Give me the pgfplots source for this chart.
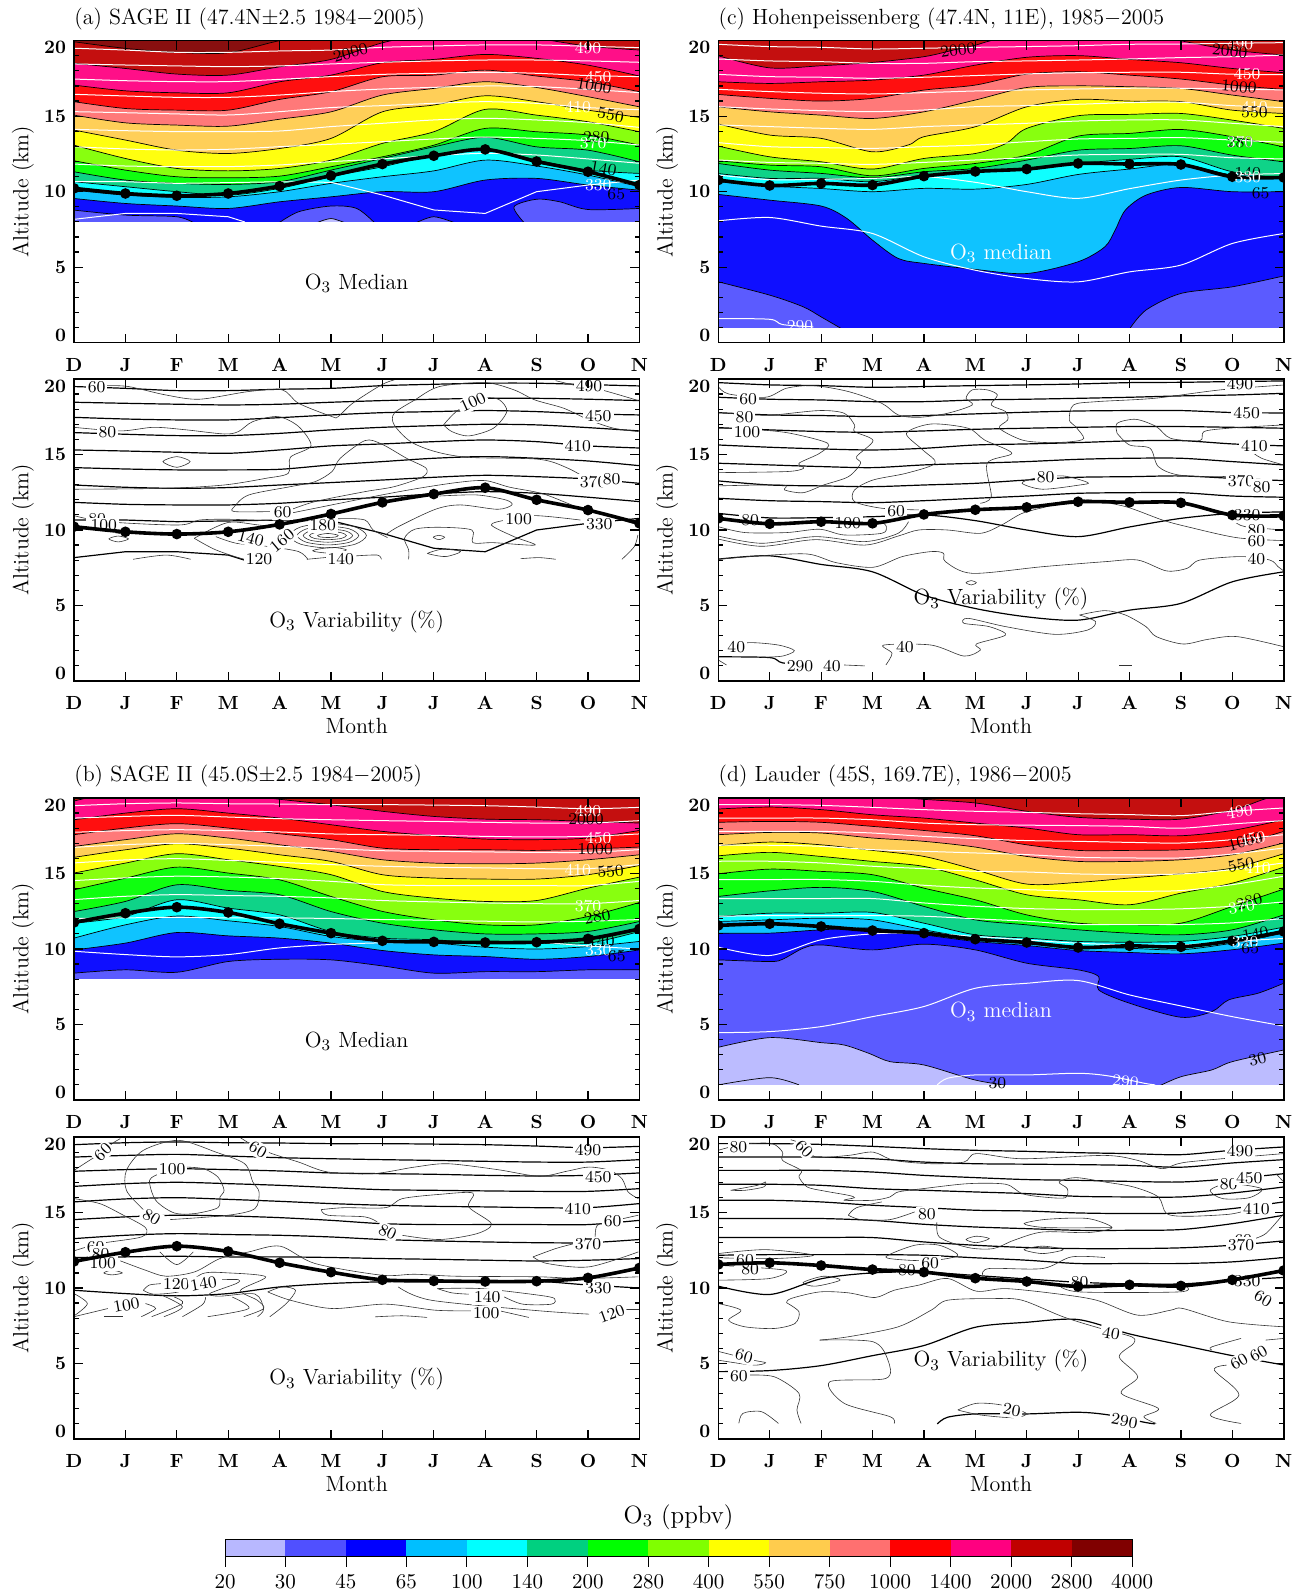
\documentclass[border=0pt]{standalone}
\usepackage{fontspec}
\usepackage{pgfplots}
\pgfplotsset{compat=1.18}
\definecolor{c20}{HTML}{B8B8FF}\definecolor{c30}{HTML}{5050FF}\definecolor{c45}{HTML}{0000FF}
\definecolor{c65}{HTML}{00BFFF}\definecolor{c100}{HTML}{00FFFF}\definecolor{c140}{HTML}{00D080}
\definecolor{c200}{HTML}{00FF00}\definecolor{c280}{HTML}{80FF00}\definecolor{c400}{HTML}{FFFF00}
\definecolor{c550}{HTML}{FFCC4D}\definecolor{c750}{HTML}{FF7070}\definecolor{c1000}{HTML}{FF0000}
\definecolor{c1400}{HTML}{FF0080}\definecolor{c2000}{HTML}{C00000}\definecolor{c2800}{HTML}{800000}
\newcommand\spc{\addfontfeature{LetterSpace=8}}
\newcommand\txt{\fontsize{11}{12}\selectfont\addfontfeature{LetterSpace=11}}
\newcommand\txtY{\fontsize{11}{12}\selectfont\addfontfeature{LetterSpace=14}}
\newcommand\lab{\fontsize{8.3}{9}\selectfont}
\newcommand\bnd[2]{\addplot[fill=#1!94!white,draw=black,line width=.35pt,smooth] coordinates {#2} \closedcycle;}
\newcommand\bg[1]{\addplot[fill=#1!94!white,draw=none] coordinates {(0,20)(11,20)} \closedcycle;}
\newcommand\cover[1]{\addplot[fill=white,draw=none] coordinates {(0,#1)(11,#1)} \closedcycle;}
\newcommand\iso[1]{\addplot[color=\isocol,line width=\isow,smooth] coordinates {#1};}
\newcommand\cl[1]{\addplot[black!80,line width=.3pt,smooth] coordinates {#1};}
\newcommand\tl[1]{\addplot[black,line width=.35pt,smooth] coordinates {#1};}
\newcommand\tp[1]{\addplot[black,line width=1.8pt,smooth,mark=*,mark size=1.7pt,mark options={solid}] coordinates {#1};}
\newcommand\Lb[4][]{\node[font=\lab,inner sep=0pt,black,#1] at (axis cs:#2,#3) {#4};}
\newcommand\Lw[4][]{\node[font=\lab,inner sep=0pt,white,#1] at (axis cs:#2,#3) {#4};}
\newcommand\Lf[4][]{\node[font=\lab,inner sep=1pt,black,fill=white,#1] at (axis cs:#2,#3) {#4};}
\newcommand\Tx[4][black]{\node[font=\txt,#1,inner sep=0pt] at (axis cs:#2,#3) {#4};}
\pgfplotsset{pan/.style={
  scale only axis,width=282.7pt,height=151pt,anchor=south west,
  xmin=0,xmax=11,ymin=0,ymax=20,axis on top,clip marker paths=true,
  xtick={0,...,11},xticklabels={D,J,F,M,A,M,J,J,A,S,O,N},
  ytick={0,5,10,15,20},
  yticklabels={\raisebox{3.8pt}[6pt][0pt]{0},5,10,15,\raisebox{-3.6pt}[6pt][0pt]{20}},
  minor y tick num=4,
  tick align=inside,xtick pos=both,ytick pos=both,
  xticklabel pos=bottom,yticklabel pos=left,
  major tick length=4.5pt,minor tick length=2.4pt,
  every tick/.style={black,line width=.6pt},
  axis line style={line width=.8pt},
  tick label style={font=\fontsize{9.5}{10}\selectfont\bfseries},
  xticklabel style={yshift=-4.3pt},
  yticklabel style={xshift=-.5pt},
  ylabel={Altitude (km)},
  every axis y label/.style={at={(axis description cs:-0.0905,0.5)},rotate=90,anchor=center,font=\txtY},
}}
\pgfplotsset{xl/.style={xlabel={Month},every axis x label/.style={at={(rel axis cs:0.5,0)},anchor=center,yshift=-22.5pt,font=\txt}},
 ttl/.style={title={#1},every axis title/.style={at={(rel axis cs:0,1)},anchor=base west,yshift=8pt,inner xsep=0pt,font=\txt}}}
% ---------- isentropes ----------
\newcommand\isoA{%
\iso{(0,19.5)(1,19.38)(2,19.23)(3,19.23)(4,19.32)(5,19.38)(6,19.56)(7,19.65)(8,19.72)(9,19.72)(10,19.63)(11,19.54)}
\iso{(0,18.46)(1,18.39)(2,18.33)(3,18.28)(4,18.33)(5,18.46)(6,18.57)(7,18.66)(8,18.72)(9,18.72)(10,18.66)(11,18.57)}
\iso{(0,17.46)(1,17.35)(2,17.29)(3,17.29)(4,17.44)(5,17.62)(6,17.77)(7,17.84)(8,17.91)(9,17.84)(10,17.69)(11,17.62)}
\iso{(0,16.45)(1,16.34)(2,16.25)(3,16.25)(4,16.4)(5,16.63)(6,16.8)(7,16.91)(8,17)(9,16.96)(10,16.78)(11,16.56)}
\iso{(0,15.3)(1,15.23)(2,15.15)(3,15.08)(4,15.3)(5,15.57)(6,15.7)(7,15.85)(8,15.96)(9,15.85)(10,15.57)(11,15.43)}
\iso{(0,14.13)(1,14.04)(2,13.98)(3,13.98)(4,14.02)(5,14.31)(6,14.53)(7,14.75)(8,14.86)(9,14.75)(10,14.57)(11,14.26)}
\iso{(0,12.98)(1,12.83)(2,12.76)(3,12.81)(4,12.98)(5,13.14)(6,13.31)(7,13.49)(8,13.62)(9,13.53)(10,13.38)(11,13.09)}
\iso{(0,11.83)(1,11.7)(2,11.66)(3,11.66)(4,11.77)(5,11.99)(6,12.17)(7,12.39)(8,12.54)(9,12.43)(10,12.17)(11,11.88)}
\addplot[color=\isocol,line width=\isow] coordinates {(0,10.66)(1,10.66)(2,10.55)(3,10.6)(4,10.66)(5,10.62)(6,9.78)(7,8.79)(8,8.56)(9,10)(10,10.44)(11,10.77)};
\addplot[color=\isocol,line width=\isow] coordinates {(0,8.17)(1,8.56)(2,8.56)(3,8.34)(3.32,8)};
}
\newcommand\isoC{%
\iso{(0,19.76)(1,19.61)(2,19.56)(3,19.45)(4,19.5)(5,19.56)(6,19.61)(7,19.67)(8,19.76)(9,19.78)(10,19.83)(11,19.87)}
\iso{(0,18.79)(1,18.66)(2,18.61)(3,18.5)(4,18.5)(5,18.61)(6,18.66)(7,18.72)(8,18.79)(9,18.88)(10,18.94)(11,19.05)}
\iso{(0,17.77)(1,17.62)(2,17.58)(3,17.51)(4,17.58)(5,17.69)(6,17.8)(7,17.88)(8,17.91)(9,17.91)(10,17.78)(11,17.75)}
\iso{(0,16.78)(1,16.63)(2,16.52)(3,16.47)(4,16.56)(5,16.67)(6,16.74)(7,16.8)(8,16.85)(9,16.85)(10,16.8)(11,16.74)}
\iso{(0,15.63)(1,15.48)(2,15.37)(3,15.3)(4,15.41)(5,15.63)(6,15.7)(7,15.79)(8,15.9)(9,15.92)(10,15.7)(11,15.57)}
\iso{(0,14.42)(1,14.31)(2,14.2)(3,14.13)(4,14.31)(5,14.42)(6,14.53)(7,14.68)(8,14.75)(9,14.75)(10,14.53)(11,14.31)}
\iso{(0,13.25)(1,12.98)(2,12.92)(3,12.87)(4,12.98)(5,13.09)(6,13.31)(7,13.49)(8,13.53)(9,13.58)(10,13.42)(11,13.27)}
\iso{(0,12.1)(1,11.94)(2,11.88)(3,11.81)(4,11.94)(5,12.1)(6,12.25)(7,12.43)(8,12.47)(9,12.47)(10,12.25)(11,12.17)}
\iso{(0,11.1)(1,10.8)(2,10.82)(3,10.88)(4,11)(5,10.62)(6,10)(7,9.56)(8,10.2)(9,10.77)(10,11.1)(11,11.2)}
\iso{(0,8.07)(1,8.29)(2,7.72)(3,7.23)(4,5.69)(5,4.8)(6,4.25)(7,4.03)(8,4.69)(9,5.14)(10,6.57)(11,7.23)}
\iso{(0,1.6)(1,1.55)(1.25,1.2)(1.85,1.05)}
}
\newcommand\isoB{%
\iso{(0,19.49)(1,19.62)(2,19.67)(3,19.62)(4,19.6)(5,19.56)(6,19.56)(7,19.53)(8,19.49)(9,19.4)(10,19.29)(11,19.38)}
\iso{(0,18.67)(1,18.78)(2,18.85)(3,18.74)(4,18.63)(5,18.56)(6,18.5)(7,18.45)(8,18.39)(9,18.34)(10,18.34)(11,18.5)}
\iso{(0,17.73)(1,17.84)(2,17.9)(3,17.84)(4,17.75)(5,17.62)(6,17.57)(7,17.53)(8,17.46)(9,17.42)(10,17.46)(11,17.62)}
\iso{(0,16.73)(1,16.91)(2,17)(3,16.91)(4,16.8)(5,16.65)(6,16.51)(7,16.47)(8,16.43)(9,16.4)(10,16.4)(11,16.58)}
\iso{(0,15.7)(1,15.9)(2,15.98)(3,15.87)(4,15.74)(5,15.59)(6,15.48)(7,15.41)(8,15.37)(9,15.32)(10,15.32)(11,15.59)}
\iso{(0,14.53)(1,14.71)(2,14.82)(3,14.77)(4,14.66)(5,14.48)(6,14.26)(7,14.2)(8,14.2)(9,14.2)(10,14.2)(11,14.48)}
\iso{(0,13.27)(1,13.49)(2,13.6)(3,13.54)(4,13.49)(5,13.38)(6,13.21)(7,13.12)(8,13.05)(9,13)(10,13)(11,13.21)}
\iso{(0,12.02)(1,12.06)(2,12.1)(3,12.06)(4,12.06)(5,12.02)(6,11.95)(7,11.9)(8,11.84)(9,11.79)(10,11.84)(11,11.95)}
\iso{(0,9.85)(1,9.63)(2,9.48)(3,9.63)(4,10.07)(5,10.3)(6,10.41)(7,10.45)(8,10.45)(9,10.45)(10,10.2)(11,10)}
}
\newcommand\isoD{%
\iso{(0,19.56)(1,19.56)(2,19.51)(3,19.38)(4,19.23)(5,19.12)(6,19.05)(7,18.96)(8,18.9)(9,18.83)(10,19.12)(11,19.34)}
\iso{(0,18.67)(1,18.67)(2,18.67)(3,18.56)(4,18.34)(5,18.23)(6,18.2)(7,18.17)(8,18.12)(9,18)(10,18.28)(11,18.5)}
\iso{(0,17.79)(1,17.79)(2,17.79)(3,17.68)(4,17.46)(5,17.31)(6,17.18)(7,17.13)(8,17.06)(9,17.02)(10,17.24)(11,17.57)}
\iso{(0,16.87)(1,16.87)(2,16.8)(3,16.58)(4,16.47)(5,16.36)(6,16.25)(7,16.07)(8,16.03)(9,16.03)(10,16.29)(11,16.69)}
\iso{(0,15.81)(1,15.81)(2,15.7)(3,15.48)(4,15.32)(5,15.15)(6,15.1)(7,14.97)(8,14.93)(9,14.97)(10,15.26)(11,15.7)}
\iso{(0,14.6)(1,14.6)(2,14.6)(3,14.48)(4,14.22)(5,14.04)(6,13.93)(7,13.82)(8,13.82)(9,13.87)(10,14.26)(11,14.82)}
\iso{(0,13.34)(1,13.34)(2,13.34)(3,13.34)(4,13.05)(5,12.83)(6,12.68)(7,12.61)(8,12.61)(9,12.66)(10,12.83)(11,13.12)}
\iso{(0,12.17)(1,12.21)(2,12.21)(3,12.21)(4,12.17)(5,12)(6,11.84)(7,11.62)(8,11.62)(9,11.62)(10,11.73)(11,12.02)}
\iso{(0,10.12)(1,9.57)(2,10.61)(3,11)(4,11.05)(5,10.83)(6,10.6)(7,10.38)(8,10.27)(9,10.27)(10,10.5)(11,10.7)}
\iso{(0,4.46)(1,4.53)(2,4.86)(3,5.52)(4,6.19)(5,7.4)(6,7.73)(7,7.91)(8,6.96)(9,6.23)(10,5.52)(11,4.9)}
\iso{(4.26,1)(4.46,1.44)(5,1.66)(6,1.66)(7,1.77)(7.6,1.59)(8.3,1.1)(8.5,1)}
}
\newcommand\tpA{\tp{(0,10.22)(1,9.88)(2,9.73)(3,9.88)(4,10.37)(5,11.06)(6,11.83)(7,12.38)(8,12.8)(9,12)(10,11.32)(11,10.44)}}
\newcommand\tpC{\tp{(0,10.77)(1,10.41)(2,10.55)(3,10.44)(4,11.03)(5,11.34)(6,11.5)(7,11.87)(8,11.83)(9,11.8)(10,10.99)(11,10.94)}}
\newcommand\tpB{\tp{(0,11.76)(1,12.37)(2,12.77)(3,12.42)(4,11.67)(5,11.05)(6,10.54)(7,10.47)(8,10.43)(9,10.45)(10,10.67)(11,11.33)}}
\newcommand\tpD{\tp{(0,11.56)(1,11.67)(2,11.49)(3,11.22)(4,11.05)(5,10.65)(6,10.43)(7,10.1)(8,10.21)(9,10.14)(10,10.54)(11,11.16)}}
\begin{document}
\begin{tikzpicture}
\useasboundingbox (0pt,0pt) rectangle (649pt,796pt);
% ================= (a) median ====================
\def\isocol{white}\def\isow{.5pt}
\begin{axis}[pan,ttl={(a) SAGE II (47.4N$\pm$2.5 1984$-$2005)},at={(37pt,624.65pt)}]
\bg{c2800}
\bnd{c2000}{(0,19.93)(1,19.49)(2,19.22)(3,19.2)(4,20)(5,20.5)(6,20.5)(11,20.5)}
\bnd{c1400}{(0,18.5)(1,18.16)(2,17.79)(3,17.72)(4,18.27)(5,18.76)(6,19.86)(7,20.5)(8,20.5)(9,20.15)(10,19.64)(11,19.38)}
\bnd{c1000}{(0,17.06)(1,16.68)(2,16.55)(3,16.55)(4,17.28)(5,17.72)(6,18.54)(7,18.76)(8,19.09)(9,18.83)(10,18.38)(11,17.66)}
\bnd{c750}{(0,15.96)(1,15.51)(2,15.4)(3,15.4)(4,16.11)(5,16.62)(6,17.61)(7,17.72)(8,18.05)(9,17.66)(10,17.28)(11,16.62)}
\bnd{c550}{(0,15.07)(1,14.56)(2,14.41)(3,14.34)(4,14.8)(5,15.29)(6,16.4)(7,16.84)(8,17.28)(9,16.9)(10,16.29)(11,15.62)}
\bnd{c400}{(0,14.08)(1,13.42)(2,12.75)(3,12.53)(4,12.86)(5,13.53)(6,15.29)(7,15.74)(8,16.35)(9,15.96)(10,15.4)(11,14.92)}
\bnd{c280}{(0,13.08)(1,12.2)(2,11.54)(3,11.38)(4,11.54)(5,12.09)(6,13.2)(7,13.97)(8,15.45)(9,15.07)(10,14.63)(11,13.97)}
\bnd{c200}{(0,12.05)(1,11.43)(2,10.99)(3,10.92)(4,11.03)(5,11.65)(6,12.31)(7,13.08)(8,14.19)(9,13.97)(10,13.75)(11,13.08)}
\bnd{c140}{(0,11.32)(1,10.77)(2,10.55)(3,10.48)(4,10.66)(5,11.43)(6,12.2)(7,12.97)(8,13.6)(9,12.97)(10,12.75)(11,11.98)}
\bnd{c100}{(0,10.66)(1,10.33)(2,10)(3,9.77)(4,10.22)(5,11)(6,11.65)(7,12.42)(8,12.86)(9,12.09)(10,11.43)(11,11.21)}
\bnd{c65}{(0,10.1)(1,9.77)(2,9.62)(3,9.66)(4,10)(5,10.55)(6,10.99)(7,11.38)(8,12.09)(9,11.7)(10,11.1)(11,10.33)}
\bnd{c45}{(0,9.55)(1,9.22)(2,9.05)(3,8.89)(4,9.33)(5,9.66)(6,10)(7,10)(8,10.77)(9,10.88)(10,10.44)(11,10.1)}
\bnd{c30}{(0,8.78)(1,8.45)(2,8.34)(2.35,7.9)}
\bnd{c30}{(3.97,7.9)(4.37,8.67)(5,9.05)(5.5,8.89)(5.86,7.9)}
\bnd{c30}{(6.63,7.9)(7,8.34)(7.44,7.9)}
\bnd{c30}{(8.77,7.9)(8.56,9)(9,9.5)(9.45,9.33)(10,8.82)(11,8.89)}
\bnd{c20}{(4.69,7.9)(5,8.22)(5.3,7.9)}
\isoA
\tpA
\cover{8}
\Lb[rotate=15]{5.38}{19.2}{2000}\Lw{10}{19.49}{490}\Lw{10.2}{17.57}{450}\Lb[rotate=-10]{10.12}{17}{1000}
\Lw{9.8}{15.58}{410}\Lb[rotate=-10]{10.44}{15.08}{550}\Lb{10.16}{13.6}{280}\Lw{10.1}{13.2}{370}
\Lb[rotate=-10]{10.3}{11.54}{140}\Lw{10.2}{10.4}{330}\Lb{10.55}{9.85}{65}
\Tx{5.5}{3.93}{O$_3$ Median}
\end{axis}
% ================= (a) variability ====================
\def\isocol{black}\def\isow{.6pt}
\begin{axis}[pan,xl,at={(37pt,455.5pt)}]
\isoA
\cl{(.62,19.56)(1.06,19.5)(1.79,18.94)(2.44,18.66)(3.4,19.17)(4.05,19.28)(4.37,18.39)(5.02,17.51)(5.14,17.51)(5.42,18.39)(5.98,19.61)(6.23,19.94)}
\cl{(9.37,19.89)(9.85,19.5)(10.26,19.28)(10.98,18.57)}
\cl{(10.02,13.31)(9.61,14.09)(9.05,14.68)(7.68,14.81)(7.03,15.19)(6.55,15.85)(6.23,16.96)(6.23,17.73)(6.63,18.61)(7.11,19.5)(8,19.76)(8.56,19.28)(8.97,18.61)(9.53,18.06)(10.02,17.29)(10.5,16.74)(10.98,16.52)}
\cl{(7.19,16.96)(7.48,17.95)(8,18.72)(8.28,18.61)(8.42,17.84)(8.16,16.74)(7.68,16.23)(7.35,16.52)(7.19,16.96)}
\cl{(0,16.8)(.9,16.56)(1.55,16.8)(2.19,16.63)(2.92,16.36)(3.2,16.52)(3.48,17.18)(3.97,17.51)(4.37,16.85)(4.61,15.57)(4.21,14.82)(4.17,13.76)(3.73,13.42)(2.92,12.98)(1.79,12.76)(0,12.7)}
\addplot[black!80,line width=.3pt,smooth cycle] coordinates {(1.73,14.53)(2,14.86)(2.26,14.53)(2,14.15)};
\cl{(3.81,11.22)(3.12,11.22)(3.12,11.55)(3.4,12.32)(4.21,12.87)(4.69,13.2)(5.02,13.87)(5.18,14.75)(5.66,15.92)(5.98,15.7)(6.47,14.75)(6.85,14.09)(6.79,13.53)(6.23,12.87)(5.66,12.54)(4.69,11.88)(4.21,11.33)}
\cl{(4.21,11.11)(5.82,12.21)(6.63,12.72)(7.44,13.14)(8,13.27)(8.48,12.83)(9.13,12.39)(9.85,11.44)(10.42,10.88)(10.98,10.33)}
\cl{(0,10.95)(.62,10.55)(2.03,10.33)(2.44,10.66)(3,10.71)(3.8,10.62)}
\cl{(6.06,9.67)(6.31,10.22)(7.03,11.37)(7.52,11.66)(8.24,11.37)(8.52,11.66)(8.4,11.99)(7.84,12.32)(7.11,12.25)}
\cl{(9.85,10.66)(8.97,10.95)(8.4,10.66)(8.12,10.33)(8.56,9.56)(8.97,9)(8.16,9.16)(7.76,9.16)(7.74,10)(7.11,10.18)(6.63,10.05)(6.43,9.45)(6.51,8.68)(6.51,8.06)}
\addplot[black!80,line width=.3pt,smooth cycle] coordinates {(.68,9.41)(.86,9.6)(1.06,9.41)(.86,9.21)};
\addplot[black!80,line width=.3pt,smooth cycle] coordinates {(6.99,9.52)(7.1,9.65)(7.21,9.52)(7.1,9.36)};
\addplot[black!80,line width=.3pt,smooth cycle] coordinates {(6.91,8.5)(7.19,8.74)(7.52,8.57)(7.23,8.24)(6.91,8.41)};
\cl{(2.34,9.45)(2.76,8.68)(3.32,8.06)(3.6,8.06)}
\cl{(2.34,9.45)(3,10.5)(3.7,10.3)(4.2,10.5)(4.5,10.6)(5.2,10.75)(5.66,10.66)(5.82,10)(6.1,9.5)}
\cl{(2.76,9.56)(3.16,9.12)(3.8,8.9)(4.37,8.57)(4.55,8.06)}
\addplot[black!80,line width=.3pt,smooth cycle] coordinates {(4.68,8.68)(5.02,8.85)(5.3,8.68)(5.02,8.46)(4.68,8.57)};
\cl{(4.53,8.06)(4.94,8.19)}\cl{(5.46,8.28)(5.9,8.34)(5.98,8.06)}\cl{(1.15,8.06)(1.79,8.34)(2.27,8.06)}\cl{(8.69,8.1)(9.05,8.17)(9.37,8.06)}\cl{(10.66,8.06)(10.9,8.9)(10.97,9.67)}
\cl{(0,10.3)(.5,10)(1,9.7)}
\addplot[black!80,line width=.3pt,smooth cycle] coordinates {(4.94,9.77)(5.09,9.7)(5.14,9.63)(5.09,9.54)(4.94,9.5)(4.79,9.54)(4.74,9.63)(4.79,9.7)};
\addplot[black!80,line width=.3pt,smooth cycle] coordinates {(4.94,9.9)(5.2,9.82)(5.3,9.63)(5.2,9.44)(4.94,9.36)(4.68,9.44)(4.58,9.63)(4.68,9.82)};
\addplot[black!80,line width=.3pt,smooth cycle] coordinates {(4.94,10.07)(5.28,9.94)(5.42,9.63)(5.28,9.32)(4.94,9.19)(4.6,9.32)(4.46,9.63)(4.6,9.94)};
\addplot[black!80,line width=.3pt,smooth cycle] coordinates {(4.94,10.25)(5.36,10.07)(5.54,9.63)(5.36,9.19)(4.94,9.01)(4.52,9.19)(4.34,9.63)(4.52,10.07)};
\addplot[black!80,line width=.3pt,smooth cycle] coordinates {(4.94,10.45)(5.47,10.2)(5.69,9.63)(5.47,9.06)(4.94,8.81)(4.41,9.06)(4.19,9.63)(4.41,10.2)};
\Lf{.44}{19.45}{60}\Lf{.65}{16.45}{80}\Lf{.45}{10.7}{80}\Lf{.58}{10.3}{100}\Lf[rotate=25]{7.76}{18.46}{100}\Lf{4.06}{11.15}{60}
\Lf[rotate=-15]{3.44}{9.45}{140}\Lf[rotate=40]{4.05}{9.3}{160}\Lf{4.84}{10.3}{180}\Lf{3.6}{8.06}{120}\Lf{5.19}{8.08}{140}\Lf{8.65}{10.73}{100}
\Lf{10.02}{19.5}{490}\Lf{10.2}{17.57}{450}\Lf{9.8}{15.57}{410}\Lf{10.1}{13.2}{370}\Lf{10.46}{13.36}{80}\Lf{10.22}{10.4}{330}
\tpA
\Tx{5.5}{3.93}{O$_3$ Variability (\%)}
\end{axis}
% ================= (c) median ====================
\def\isocol{white}\def\isow{.5pt}
\begin{axis}[pan,ttl={(c) Hohenpeissenberg (47.4N, 11E), 1985$-$2005},at={(359.15pt,624.65pt)}]
\bg{c2000}
\bnd{c1400}{(0,19)(1,18.2)(2,18.34)(3,18.56)(4,18.94)(4.6,19.4)(5,19.7)(5.3,20)(6,20.5)(8.5,20.5)(9,20)(10,19.38)(11,19.05)}
\bnd{c1000}{(0,17.28)(1,17.17)(2,17.28)(3,17.39)(4,17.72)(5,18.38)(6,18.9)(7,19.01)(8,18.76)(9,18.54)(10,18.16)(11,17.88)}
\bnd{c750}{(0,16.44)(1,16.18)(2,16)(3,16.18)(4,16.73)(5,17.06)(6,17.79)(7,17.94)(8,17.72)(9,17.46)(10,17.06)(11,16.77)}
\bnd{c550}{(0,15.62)(1,15.29)(2,15.07)(3,14.85)(4,15.29)(5,16.07)(6,16.9)(7,17.01)(8,16.95)(9,16.84)(10,16.4)(11,15.96)}
\bnd{c400}{(0,14.48)(1,13.75)(2,13.53)(3,12.64)(3.7,13.1)(4,13.64)(5,14.3)(6,15.62)(7,16.11)(8,16)(9,15.96)(10,15.4)(11,15.18)}
\bnd{c280}{(0,13.02)(1,12.31)(2,11.98)(3,11.5)(4,12.2)(5,12.53)(5.6,13.2)(6,14.19)(7,15.03)(8,15.12)(9,15.18)(10,14.74)(11,14.19)}
\bnd{c200}{(0,12.05)(1,11.76)(2,11.65)(3,11.05)(4,11.54)(5,11.87)(6,12.42)(7,13.68)(8,13.86)(9,14.12)(10,13.64)(11,12.97)}
\bnd{c140}{(0,11.87)(1,11.43)(2,11.21)(3,10.92)(4,11.32)(5,11.54)(6,12.09)(7,12.75)(8,12.86)(9,13.04)(10,12.42)(11,11.98)}
\bnd{c100}{(0,11.2)(1,10.88)(2,10.88)(3,10.66)(4,11.1)(5,11.32)(6,11.54)(7,11.87)(8,12.14)(9,12.31)(10,11.32)(11,10.88)}
\bnd{c65}{(0,10.66)(1,10.37)(2,10.21)(3,10)(4,10.22)(5,10.17)(6,10.48)(7,11.14)(8,11.5)(9,11.82)(10,11.1)(11,10.88)}
\bnd{c45}{(0,9.82)(1,9.44)(2,9.05)(2.5,8.23)(3,6.79)(3.5,5.58)(4,5.25)(5,4.85)(6,4.58)(7,5.36)(7.52,6.35)(7.72,7.45)(7.92,8.78)(8.32,9.77)(9,10.28)(10,10)(11,10)}
\bnd{c30}{(0,4.03)(1,3.15)(1.65,2.38)(2,1.71)(2.41,.9)}
\bnd{c30}{(8,.9)(8.32,2.16)(9,3.26)(10,3.7)(11,4.42)}
\isoC
\tpC
\cover{1}
\Lb[rotate=8]{4.66}{19.38}{2000}\Lw{10.15}{19.75}{490}\Lb[rotate=-5]{9.95}{19.31}{2000}\Lw{10.29}{17.79}{450}\Lb[rotate=-5]{10.13}{16.95}{1000}
\Lw{10.43}{15.62}{410}\Lb{10.43}{15.25}{550}\Lb{10.15}{13.3}{280}\Lw{10.15}{13.3}{370}\Lb{10.3}{11.25}{140}\Lw{10.3}{10.94}{330}\Lb{10.55}{9.93}{65}\Lw{1.59}{1.1}{290}
\Tx[white]{5.5}{5.9}{O$_3$ median}
\end{axis}
% ================= (c) variability ====================
\def\isocol{black}\def\isow{.6pt}
\begin{axis}[pan,xl,at={(359.15pt,455.5pt)}]
\isoC
\cl{(0,19.5)(.2,19.01)(.92,18.79)(1.33,19.39)(1.85,19.56)(2.53,19.17)(3.18,18.39)(3.5,17.62)(3.9,17.46)(4.46,17.73)(4.94,18.28)(4.82,18.72)(4.94,19.28)(5.23,19.28)(5.43,18.94)(5.31,18.28)(5.59,17.84)(5.63,17.29)(5.47,16.74)(5.91,15.96)(6.39,15.79)(6.87,15.85)(7.11,16.07)(6.95,16.85)(6.83,17.29)(6.91,18.28)(7.36,18.5)(8.48,18.72)(9.77,19.28)(11,19.6)}
\cl{(0,17.77)(.68,17.62)(1.09,17.62)(1.97,17.91)(2.45,17.73)(2.65,16.96)(2.65,16.52)(3.01,15.92)(2.69,14.86)(2.77,14.42)(2.53,13.53)(2.05,12.98)(1.65,12.47)(1.29,12.65)(1.25,12.98)(0,12.92)}
\cl{(0,16.74)(.8,16.63)(1.41,16.4)(2.13,15.74)(1.97,15.08)(1.57,14.42)(1.66,14.09)(1.33,13.87)(0,13.8)}
\cl{(3.9,11.33)(3.18,11.44)(2.65,11.88)(2.65,12.65)(3.01,13.31)(3.66,13.76)(4.22,14.42)(3.98,15.3)(3.66,16.4)(4.14,17.02)(4.86,16.74)(5.18,15.96)(5.71,15.08)(5.23,14.42)(5.31,12.21)(5.1,11.77)}
\cl{(7.76,16.4)(7.76,17.07)(8.12,17.33)(8.52,16.85)(8.8,16.07)(9.37,15.92)(9.45,16.52)(9.93,16.74)(11,16.96)}
\cl{(7.76,16.4)(8,15.63)(8.4,15.41)(8.56,14.2)(8.96,13.64)(9.77,13.53)(10.25,13.76)}
\addplot[black!80,line width=.3pt,smooth cycle] coordinates {(5.91,13.09)(6.15,13.42)(6.71,13.58)(7.19,13.14)(7.03,12.98)(6.31,12.7)};
\cl{(0,10.22)(.52,9.83)(1.33,9.83)(1.97,10.05)(2.45,9.67)(3.18,9.78)(3.27,10.22)(3.18,10.55)}
\cl{(0,9.6)(.84,9.12)(1.89,9.56)(2.85,9.23)(3.5,9.78)(3.7,10.55)}
\cl{(0,9.4)(.84,8.92)(1.89,9.36)(2.85,9)(3.5,9.6)(3.9,10)(4.46,10)(5.1,9.78)(5.51,10.33)(5.91,11.1)(6.39,11.55)(6.71,11.88)(7.19,11.99)(7.92,11.55)(8.64,10.66)(9.12,10.22)(10.09,9.49)(11,9.3)}
\cl{(0,8.06)(.76,8.28)(1.73,8.41)(2.29,7.84)(3.01,7.53)(3.58,8.24)(4.14,8.57)(4.38,8.46)(4.42,7.9)(4.94,7.13)(6.31,7.57)(7.52,7.9)(8.16,8.01)(8.72,7.29)(9.12,7.46)(9.37,8.01)(10.17,8.24)(10.73,8.01)(10.89,7.57)(11,7.29)}
\addplot[black!80,line width=.3pt,smooth cycle] coordinates {(4.82,6.51)(4.92,6.65)(5.02,6.51)(4.92,6.36)};
\cl{(7.03,4.37)(7.52,4.66)(7.92,4.37)(8.32,3.6)(8.52,2.94)(9.04,2.45)(9.53,2.76)(10.09,2.94)(11,2.27)}
\cl{(7.03,4.37)(7.34,3.93)(7.19,3.38)(6.55,3.09)(5.59,3.6)(4.86,4.15)(4.78,3.82)(5.27,3.6)(5.59,3.05)(5.02,2.45)(5.1,2.05)(4.78,1.65)(4.14,2.38)(3.22,2.38)(3.38,1.83)(3.26,1.06)}
\cl{(.2,2.27)(.6,2.54)(1.17,2.38)(1.48,2.01)(1.25,1.65)(.84,1.57)}
\cl{(0,1.39)(.16,1.06)}\cl{(2.45,1.06)(2.85,1)}\cl{(7.8,1.02)(8.04,1.02)}\cl{(10.33,15.3)(10.57,14.75)(11,14.31)}\cl{(10.05,10.55)(10.25,10.22)(11,10)}
\Lf{10.15}{19.67}{490}\Lf{.58}{18.68}{60}\Lf{.51}{17.44}{80}\Lf{.56}{16.47}{100}\Lf{10.28}{17.77}{450}\Lf{10.43}{15.57}{410}\Lf{6.37}{13.53}{80}\Lf{10.17}{13.25}{370}\Lf{10.57}{12.87}{80}\Lf{3.46}{11.22}{60}\Lf{.62}{10.62}{80}\Lf{2.52}{10.44}{100}\Lf{10.29}{11}{330}\Lf{10.47}{10}{80}\Lf{10.47}{9.27}{60}\Lf{10.47}{8.06}{40}\Lf{.35}{2.23}{40}\Lf{3.63}{2.27}{40}\Lf{1.59}{1}{290}\Lf{2.21}{1}{40}
\tpC
\Tx{5.5}{5.4}{O$_3$ Variability (\%)}
\end{axis}
% ================= (b) median ====================
\def\isocol{white}\def\isow{.5pt}
\begin{axis}[pan,ttl={(b) SAGE II (45.0S$\pm$2.5 1984$-$2005)},at={(37pt,246pt)}]
\bg{c2000}
\bnd{c1400}{(0,19.8)(1,20.5)(2,20.5)(3,20.5)(3.8,20)(5,19.55)(6,19.12)(7,18.78)(8,18.6)(9,18.56)(10,18.45)(11,18.34)}
\bnd{c1000}{(0,18.56)(1,19)(2,19.29)(3,19)(4,18.67)(5,18.23)(6,17.79)(7,17.5)(8,17.28)(9,17.24)(10,17.35)(11,17.85)}
\bnd{c750}{(0,17.57)(1,18.01)(2,18.3)(3,18.01)(4,17.63)(5,17.24)(6,16.68)(7,16.57)(8,16.57)(9,16.53)(10,16.62)(11,16.75)}
\bnd{c550}{(0,16.79)(1,17.24)(2,17.63)(3,17.35)(4,16.9)(5,16.46)(6,15.91)(7,15.69)(8,15.64)(9,15.69)(10,15.91)(11,16.24)}
\bnd{c400}{(0,16.07)(1,16.57)(2,16.97)(3,16.68)(4,16.24)(5,15.8)(6,14.92)(7,14.7)(8,14.63)(9,14.63)(10,14.92)(11,15.53)}
\bnd{c280}{(0,15.03)(1,15.69)(2,16.31)(3,15.91)(4,15.47)(5,14.92)(6,13.81)(7,13.37)(8,13.15)(9,13.21)(10,14.03)(11,14.76)}
\bnd{c200}{(0,13.92)(1,14.69)(2,15.42)(3,15.03)(4,14.58)(5,13.48)(6,12.49)(7,11.93)(8,11.6)(9,11.6)(10,12.15)(11,13.08)}
\bnd{c140}{(0,12.48)(1,13.15)(2,14.25)(3,13.88)(4,13.59)(5,12.48)(6,11.71)(7,11.27)(8,11)(9,11)(10,11.16)(11,11.82)}
\bnd{c100}{(0,11.71)(1,12.15)(2,13.26)(3,12.71)(4,12.26)(5,11.16)(6,10.72)(7,10.61)(8,10.38)(9,10.38)(10,10.38)(11,11.16)}
\bnd{c65}{(0,10.72)(1,11.6)(2,12.18)(3,11.87)(4,11.49)(5,10.83)(6,10.5)(7,10.39)(8,10.12)(9,10)(10,10.16)(11,10.5)}
\bnd{c45}{(0,9.94)(1,10.39)(2,11.09)(3,10.87)(4,10.72)(5,10.39)(6,9.9)(7,9.61)(8,9.5)(9,9.32)(10,9.5)(11,9.94)}
\bnd{c30}{(0,8.4)(1,8.62)(2,8.46)(3,9.17)(4,9.32)(5,9.28)(6,8.88)(7,8.4)(8,8.5)(9,8.5)(10,8.62)(11,8.62)}
\isoB
\tpB
\cover{8}
\Lw{10}{19.16}{490}\Lb{9.96}{18.6}{2000}\Lw{10.2}{17.35}{450}\Lb{10.14}{16.62}{1000}\Lw{9.8}{15.2}{410}\Lb[rotate=5]{10.44}{15.14}{550}\Lw{10}{12.86}{370}\Lb[rotate=10]{10.18}{12.15}{280}\Lb{10.26}{10.5}{140}\Lw{10.2}{9.94}{330}\Lb{10.56}{9.55}{65}
\Tx{5.5}{3.9}{O$_3$ Median}
\end{axis}
% ================= (b) variability ====================
\def\isocol{black}\def\isow{.6pt}
\begin{axis}[pan,xl,at={(37pt,76.5pt)}]
\isoB
\cl{(0,17.79)(.3,18.45)(.56,19)(.74,19.56)(.9,19.89)}
\cl{(3.24,19.95)(3.48,19.45)(3.85,18.9)(4.37,18.34)(4.94,17.68)(5.82,17.57)(6.63,18.01)(7.27,18.23)(8.24,17.84)(9.05,17.4)(9.61,17.75)(10.02,18.01)(10.42,17.79)(10.66,17.24)(10.78,16.36)(10.98,15.92)}
\cl{(1.51,14.7)(1.31,15.32)(1.02,16.47)(1.02,17.79)(1.35,19.12)(2.03,19.78)(2.76,19)(3.32,18.23)(3.48,17.02)(3.6,16.36)(3.52,15.26)(3,14.82)(1.87,14.53)}
\cl{(1.67,17.57)(1.47,17.13)(1.59,15.81)(1.95,14.97)(2.35,14.93)(2.8,15.32)(2.84,16.03)(2.92,16.47)(2.8,17.35)(2.52,17.9)(2.15,18.01)}
\cl{(0,15.92)(.5,15.59)(.9,14.93)(1.39,14)(1.31,13.38)(.5,12.94)(0,12.46)}
\cl{(4.81,15.19)(5.26,15.32)(6.06,15.32)(6.39,15.92)(7.11,16.2)(7.76,16.29)(7.68,15.37)(8.12,14.26)(7.84,13.6)(7.11,13.21)(6.39,13.49)}
\cl{(4.81,15.19)(4.94,14.82)(5.66,14.71)(5.9,14.37)}
\cl{(8.93,12.06)(9.37,12.61)(9.73,12.94)}\cl{(8.93,12.06)(9.21,11.62)(10.02,11.4)(10.98,12.39)}\cl{(10.14,13.38)(10.18,14.15)(10.46,14.42)(10.98,14.82)}
\cl{(1.67,12.39)(2,11.55)(2.32,12.39)}
\cl{(.9,11.8)(1.39,11.18)(1.79,10.78)(2.35,11.07)(2.84,11.95)(3.4,12.39)(4.01,12.77)(4.69,11.62)(5.98,10.85)(6.63,10.91)(7.44,10.78)(9.05,10.74)(9.85,10.63)(10.98,10.74)}
\cl{(1.35,9.85)(1.47,10.2)(1.75,10.3)}\cl{(1.35,9.85)(1.55,9.59)(2.03,9.74)(2.23,10.2)}
\cl{(2.88,10.55)(3.2,10.55)(3.16,10.3)(2.64,9.63)(2.84,9.46)(3.52,9.6)(3.69,8.6)(3.57,8.1)}
\cl{(2.1,9.9)(2.5,10.95)(3,11)(3.73,10.74)(3.24,9.85)(3.56,9.2)(3.69,8.64)(3.3,8.1)}
\cl{(3.77,9.74)(4.05,10.07)(4.31,9.85)(4.13,8.97)(3.81,8.1)}
\cl{(3.77,9.74)(4.21,9.19)(5.02,8.64)(6.06,8.93)(7.03,8.53)(7.76,8.49)}\cl{(8.28,8.49)(8.85,8.05)}
\cl{(6.31,10.07)(6.95,9.19)(9.05,8.49)(10.02,8.27)}\cl{(10.7,8.6)(11,8.6)}
\cl{(7.07,9.96)(7.35,9.68)(7.68,9.59)}\cl{(8.37,9.41)(8.73,8.93)(9.29,8.93)(9.35,9.3)(9.05,9.52)(7.92,9.96)(7.07,9.96)}
\cl{(5.86,8.09)(6.39,8.16)(6.87,8.05)}
\cl{(0,9.63)(.26,8.97)(.02,8.2)}\cl{(.58,8.1)(.94,8.1)}\cl{(0,8.1)(.66,8.64)}\cl{(1.39,8.97)(1.59,8.64)(1.31,8.1)}
\cl{(1.51,8.1)(2.11,8.97)(1.95,9.4)}\cl{(1.75,8.1)(2.11,8.75)(1.71,9.52)}\cl{(2.11,8.1)(2.5,8.9)(2.56,9.4)}\cl{(2.6,8.1)(3.4,8.64)(3.08,9.4)}
\addplot[black!80,line width=.3pt,smooth cycle] coordinates {(.58,11)(.74,11.18)(.94,11)(.74,10.87)};
\Lf[rotate=45]{.56}{19}{60}\Lf[rotate=-30]{3.58}{19.16}{60}\Lf{10}{19.12}{490}\Lf{1.91}{17.86}{100}\Lf{10.2}{17.35}{450}\Lf{9.8}{15.2}{410}\Lf[rotate=-30]{1.51}{14.7}{80}\Lf{10.48}{14.42}{60}\Lf[rotate=-25]{6.1}{13.71}{80}\Lf{10}{12.88}{370}\Lf{.42}{12.72}{60}\Lf{.52}{12.24}{80}\Lf{.56}{11.62}{100}\Lf{1.99}{10.25}{120}\Lf[rotate=10]{2.52}{10.3}{140}\Lf{10.2}{9.96}{330}\Lf{8.04}{9.41}{140}\Lf[rotate=10]{1.02}{8.86}{100}\Lf{8.02}{8.31}{100}\Lf[rotate=20]{10.46}{8.31}{120}
\tpB
\Tx{5.5}{3.95}{O$_3$ Variability (\%)}
\end{axis}
% ================= (d) median ====================
\def\isocol{white}\def\isow{.5pt}
\begin{axis}[pan,ttl={(d) Lauder (45S, 169.7E), 1986$-$2005},at={(359.15pt,246pt)}]
\bg{c2000}
\bnd{c1400}{(0,20.5)(3,20.5)(3.7,20)(5,19.67)(6,19.12)(7,18.72)(8,18.6)(9,18.6)(10,19.2)(10.6,19.9)(11,20.3)}
\bnd{c1000}{(0,19.27)(1,19.4)(2,19.23)(3,18.89)(4,18.67)(5,18.34)(6,18.01)(7,17.57)(8,17.57)(9,17.5)(10,17.85)(11,18.56)}
\bnd{c750}{(0,18.39)(1,18.45)(2,18.39)(3,18.12)(4,17.85)(5,17.5)(6,16.9)(7,16.53)(8,16.53)(9,16.57)(10,16.84)(11,17.79)}
\bnd{c550}{(0,17.57)(1,17.72)(2,17.68)(3,17.35)(4,17.13)(5,16.75)(6,16.13)(7,15.8)(8,15.8)(9,15.91)(10,16.24)(11,17.02)}
\bnd{c400}{(0,16.84)(1,17.08)(2,16.9)(3,16.53)(4,16.13)(5,15.25)(6,14.3)(7,14.41)(8,14.7)(9,14.98)(10,15.36)(11,16.31)}
\bnd{c280}{(0,16.17)(1,16.4)(2,16.13)(3,15.8)(4,15.47)(5,14.58)(6,13.59)(7,13.26)(8,12.93)(9,13.7)(10,14.36)(11,15.42)}
\bnd{c200}{(0,14.98)(1,15.29)(2,15.14)(3,14.92)(4,14.03)(5,13.26)(6,12.26)(7,11.71)(8,11.6)(9,11.71)(10,12.82)(11,13.97)}
\bnd{c140}{(0,13.48)(1,13.85)(2,14.08)(3,13.81)(4,12.82)(5,11.93)(6,11.6)(7,11.27)(8,11.05)(9,10.94)(10,11.27)(11,12.26)}
\bnd{c100}{(0,12.15)(1,12.37)(2,12.37)(3,12.42)(4,11.71)(5,10.94)(6,10.72)(7,10.5)(8,10.45)(9,10.5)(10,10.83)(11,11.45)}
\bnd{c65}{(0,11.82)(1,11.93)(2,12.04)(3,11.93)(4,11.27)(5,10.72)(6,10.5)(7,10.16)(8,10.05)(9,9.95)(10,10.39)(11,11.05)}
\bnd{c45}{(0,11.05)(1,11.05)(2,11.27)(3,11.38)(4,10.94)(5,10.5)(6,10.23)(7,9.9)(8,9.77)(9,9.68)(10,9.95)(11,10.39)}
\bnd{c30}{(0,9.28)(1,9.17)(1.25,9.32)(1.65,10.05)(2,10.27)(3,9.94)(4,10.32)(5,9.94)(6,9.06)(7,8.62)(7.4,8.18)(7.4,7.29)(8,6.41)(9,5.48)(9.6,5.85)(9.93,6.63)(10.5,7.07)(11,7.73)}
\bnd{c20}{(0,3.49)(1,4.13)(2,3.8)(2.45,3.64)(2.93,3.09)(3.34,2.54)(4,2.32)(5,1.32)(5.75,.9)}
\bnd{c20}{(8.56,.9)(9,1.54)(9.6,1.99)(10,2.54)(11,3.31)}
\tl{(0,1)(1,1.48)(1.57,1)}
\isoD
\tpD
\cover{1}
\Lw[rotate=10]{10.14}{19.11}{490}\Lb[rotate=15]{10.25}{17.13}{1000}\Lw[rotate=10]{10.39}{17.3}{450}\Lb[rotate=10]{10.17}{15.58}{550}\Lw{10.49}{15.36}{410}\Lb[rotate=15]{10.33}{13.15}{280}\Lw[rotate=10]{10.18}{12.8}{370}\Lb[rotate=10]{10.45}{11}{140}\Lw{10.25}{10.43}{330}\Lb{10.35}{10.05}{65}\Lb[rotate=15]{10.49}{2.72}{30}\Lb{5.43}{1.1}{30}\Lw[rotate=-5]{7.92}{1.22}{290}
\Tx[white]{5.5}{5.85}{O$_3$ median}
\end{axis}
% ================= (d) variability ====================
\def\isocol{black}\def\isow{.6pt}
\begin{axis}[pan,xl,at={(359.15pt,76.5pt)}]
\isoD
\cl{(0,19.12)(.24,19.34)(.6,19.56)(1.05,19.56)(1.25,19)(1.25,18.45)(1.61,17.79)(1.57,17.35)(1.73,16.69)(2.05,16.43)(2.53,16.14)(2.65,15.98)(2.45,15.81)(3.01,15.81)(3.34,16.03)(3.5,16.36)(3.98,16.58)(4.86,16.91)(5.59,16.87)(5.91,16.25)(6.31,16.03)(6.75,15.98)(6.79,16.58)(6.63,17.02)(6.95,17.31)(7.52,17.02)(8.08,16.69)(8.56,16.03)(8.72,14.93)(9.12,14.75)(9.93,14.88)(10.29,15.15)}
\cl{(1.41,19.82)(1.69,19.45)(1.89,18.67)(2.53,18.78)(3.01,19)(3.42,18.45)(4.14,18.23)(4.78,18.34)(5.02,18.9)(5.91,18.56)(7.52,18.78)(8.16,18.45)(8.64,17.9)(9.12,18.34)(11,18.9)}
\cl{(.24,16.47)(.76,16.8)(.92,17.02)(.88,16.69)(.52,16.47)(.24,16.47)}
\addplot[black!80,line width=.3pt,smooth cycle] coordinates {(9.57,16.47)(9.93,16.91)(10.57,16.58)(10.33,15.98)(9.81,15.92)};
\cl{(2.53,14.82)(2.69,15.32)(3.18,15.7)}\cl{(2.53,14.82)(2.77,14.53)(3.34,14.53)(3.82,15.04)}
\cl{(4.26,14.6)(4.3,13.38)(4.86,12.68)(5.35,12.61)(5.75,13.16)(6.31,13.71)(7.19,13.67)(7.66,14)(7.19,14.6)(6.39,14.55)(5.95,14.26)(6.39,14)(7.66,14)}
\addplot[black!80,line width=.3pt,smooth cycle] coordinates {(4.82,13.21)(5.02,13.43)(5.27,13.27)(5.02,13)};
\addplot[black!80,line width=.3pt,smooth cycle] coordinates {(5.95,12.54)(6.31,12.77)(6.71,12.54)(6.31,12.28)};
\addplot[black!80,line width=.3pt,smooth cycle] coordinates {(3.26,12.06)(3.82,12.83)(4.3,12.83)(4.66,12.17)(4.22,11.84)(3.7,11.84)};
\cl{(0,12.28)(.92,12.54)(1.85,12.17)(1.09,11.95)(0,12)}
\cl{(0,11.5)(1.29,11.18)(1,10.63)(0,10.52)}
\addplot[black!80,line width=.3pt,smooth cycle] coordinates {(1.65,10.36)(2.05,10.78)(2.37,10.52)(1.89,10.12)};
\cl{(1.33,9.02)(1.41,9.3)(1.97,9.74)(2.53,9.68)(3.05,9.37)(3.42,9.85)(3.9,10.19)(4.46,10.63)(5.02,9.79)(5.59,9.96)(6.55,9.63)(7.36,9.19)(8.16,8.2)(8.8,8.53)(9.04,8.64)(9.93,7.76)(11,7.43)}
\cl{(1.33,9.02)(1.57,8.42)(1.49,7.65)(1.09,7.32)(.52,7.43)(.2,7.87)(.44,8.53)(0,8.97)}
\cl{(1.97,6.55)(2.53,6.77)(3.5,7.43)(4.14,8.53)(4.46,9.19)(5.35,9.3)(5.91,9.19)(6.71,8.09)(7.44,7.32)(8.04,6.77)(8.08,6.33)(7.8,5.44)(8.16,4.12)(7.84,3.02)(8.56,2.03)(8.28,1.48)(8.52,1.03)}
\cl{(1.97,6.55)(3.01,6.44)(3.3,5.22)(3.26,4.01)(2.17,3.79)(2.45,2.36)(3.34,1.48)(3.42,1.03)}
\cl{(0,5.8)(.68,5.22)(.92,5.05)(.68,4.89)(0,5.22)}
\cl{(.56,4.23)(1.09,4.12)(1.57,3.02)(1.53,1.92)(1.61,1.03)}
\cl{(.4,1.03)(.48,1.7)(.84,1.81)(1.17,1.03)}
\cl{(4.66,1.92)(5.02,2.36)(5.51,2.25)(5.99,1.7)(5.75,1.41)(5.1,1.59)(4.66,1.92)}
\cl{(10.17,1.03)(9.57,1.59)(10.13,2.91)(9.65,4.56)(9.89,4.89)}
\cl{(10.65,6.55)(11,6.66)}\cl{(9.6,5.89)(9.6,6.1)(10.17,6.66)}\cl{(10.85,17.57)(11,17.02)}\cl{(11,14.93)(10.65,13.6)(10.33,13.16)}
\cl{(5.14,10.85)(5.27,11.29)(6.31,11.29)(6.87,12.06)(7.52,12.02)}
\cl{(6.63,10.18)(7.03,9.74)(8.96,9.74)(9.12,10.07)}
\Lf{.39}{19.34}{80}\Lf[rotate=-45]{1.67}{19.23}{60}\Lf{10.15}{19.07}{490}\Lf{9.93}{16.91}{80}\Lf{10.33}{17.31}{450}\Lf{10.47}{15.26}{410}\Lf{4.06}{14.88}{80}\Lf{10.21}{13.16}{60}\Lf{10.17}{12.83}{370}\Lf{.52}{11.84}{60}\Lf{.62}{11.24}{80}\Lf{4.12}{11.62}{60}\Lf{3.67}{11.18}{80}\Lf{7.03}{10.36}{80}\Lf{10.29}{10.47}{330}\Lf[rotate=-30]{10.6}{9.3}{60}\Lf[rotate=-10]{7.64}{6.99}{40}\Lf[rotate=30]{10.13}{5.11}{60}\Lf[rotate=30]{10.51}{5.67}{60}\Lf[rotate=-15]{.5}{5.49}{60}\Lf{.4}{4.17}{60}\Lf[rotate=-10]{5.71}{1.92}{20}\Lf[rotate=-10]{7.9}{1.19}{290}
\tpD
\Tx{5.5}{5.15}{O$_3$ Variability (\%)}
\end{axis}
% ================= colour bar ====================
\begin{axis}[scale only axis,width=453.5pt,height=8.35pt,anchor=south west,at={(112.5pt,18pt)},
 xmin=0,xmax=15,ymin=0,ymax=1,ytick=\empty,axis on top,
 xtick={0,...,15},xticklabels={20,30,45,65,100,140,200,280,400,550,750,1000,1400,2000,2800,4000},
 tick align=outside,xtick pos=bottom,major tick length=5.35pt,
 every tick/.style={black,line width=.4pt},axis line style={line width=.5pt},
 tick label style={font=\fontsize{10.5}{11}\selectfont\spc},xticklabel style={yshift=-.5pt},
 title={O$_3$ (ppbv)},every axis title/.style={at={(rel axis cs:0.5,1)},anchor=center,yshift=11.2pt,font=\fontsize{12.5}{13}\selectfont\spc}]
\addplot[fill=c20,draw=none] coordinates {(0,0)(1,0)(1,1)(0,1)} --cycle;
\addplot[fill=c30,draw=none] coordinates {(1,0)(2,0)(2,1)(1,1)} --cycle;
\addplot[fill=c45,draw=none] coordinates {(2,0)(3,0)(3,1)(2,1)} --cycle;
\addplot[fill=c65,draw=none] coordinates {(3,0)(4,0)(4,1)(3,1)} --cycle;
\addplot[fill=c100,draw=none] coordinates {(4,0)(5,0)(5,1)(4,1)} --cycle;
\addplot[fill=c140,draw=none] coordinates {(5,0)(6,0)(6,1)(5,1)} --cycle;
\addplot[fill=c200,draw=none] coordinates {(6,0)(7,0)(7,1)(6,1)} --cycle;
\addplot[fill=c280,draw=none] coordinates {(7,0)(8,0)(8,1)(7,1)} --cycle;
\addplot[fill=c400,draw=none] coordinates {(8,0)(9,0)(9,1)(8,1)} --cycle;
\addplot[fill=c550,draw=none] coordinates {(9,0)(10,0)(10,1)(9,1)} --cycle;
\addplot[fill=c750,draw=none] coordinates {(10,0)(11,0)(11,1)(10,1)} --cycle;
\addplot[fill=c1000,draw=none] coordinates {(11,0)(12,0)(12,1)(11,1)} --cycle;
\addplot[fill=c1400,draw=none] coordinates {(12,0)(13,0)(13,1)(12,1)} --cycle;
\addplot[fill=c2000,draw=none] coordinates {(13,0)(14,0)(14,1)(13,1)} --cycle;
\addplot[fill=c2800,draw=none] coordinates {(14,0)(15,0)(15,1)(14,1)} --cycle;
\end{axis}
\end{tikzpicture}
\end{document}
